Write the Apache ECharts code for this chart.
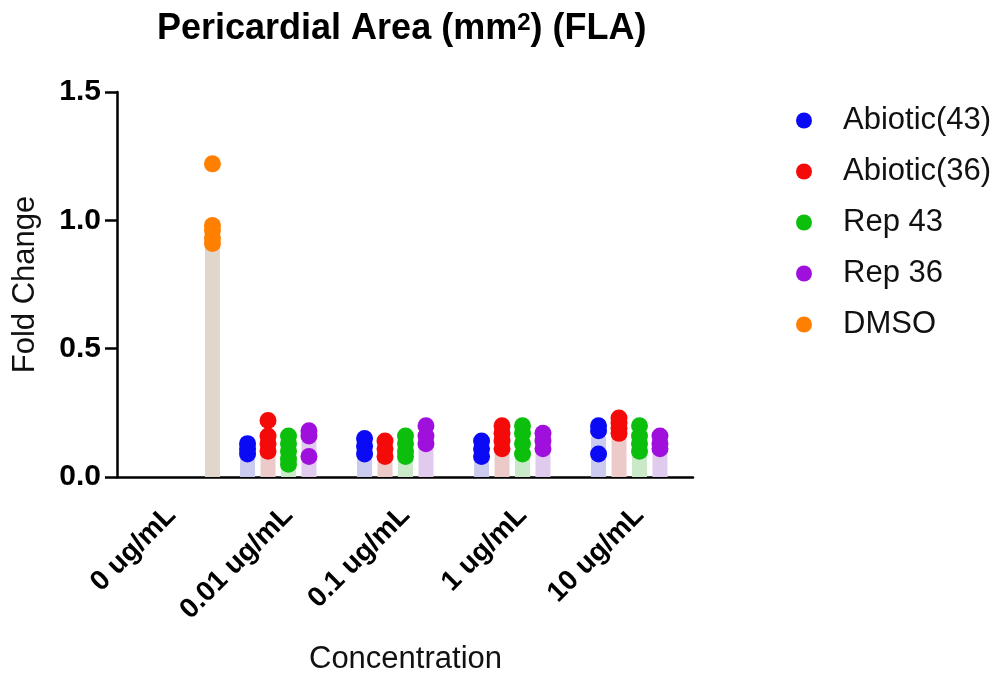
<!DOCTYPE html>
<html>
<head>
<meta charset="utf-8">
<script src="https://cdn.jsdelivr.net/npm/echarts@6/dist/echarts.min.js"></script>
<style>
html,body{margin:0;padding:0;background:#fff;}
#chart{width:1000px;height:673px;}
</style>
</head>
<body>
<div id="chart"></div>
<script>
// ---- data ----
const categories = ['0 ug/mL', '0.01 ug/mL', '0.1 ug/mL', '1 ug/mL', '10 ug/mL'];
const seriesNames = ['Abiotic(43)', 'Abiotic(36)', 'Rep 43', 'Rep 36', 'DMSO'];
const abiotic43 = [[], [0.13, 0.11, 0.09], [0.15, 0.12, 0.09], [0.14, 0.11, 0.08], [0.20, 0.18, 0.09]];
const abiotic36 = [[], [0.22, 0.16, 0.13, 0.10], [0.14, 0.11, 0.08], [0.20, 0.17, 0.14, 0.11], [0.23, 0.21, 0.19, 0.17]];
const rep43 = [[], [0.16, 0.13, 0.10, 0.07, 0.05], [0.16, 0.13, 0.10, 0.08], [0.20, 0.17, 0.13, 0.09], [0.20, 0.16, 0.13, 0.10]];
const rep36 = [[], [0.18, 0.16, 0.08], [0.20, 0.16, 0.13], [0.17, 0.14, 0.11], [0.16, 0.13, 0.11]];
const dmso = [[1.22, 0.98, 0.96, 0.93, 0.91], [], [], [], []];
const yTicks = [0, 0.5, 1.0, 1.5];

// ---- styles ----
const pointColors = ['#0a0af5', '#f50a0a', '#0cbf0c', '#a010dc', '#ff8000'];
const barColors = ['#cbcbef', '#eccaca', '#c9e9c9', '#e0cbee', '#e0d6cc'];
const FONT = 'Liberation Sans, Arial, Helvetica, sans-serif';
const allData = [abiotic43, abiotic36, rep43, rep36, dmso];
const slotStep = 0.175;

const scatterSeries = allData.map((groups, s) => {
  const pts = [];
  groups.forEach((vals, c) => {
    vals.forEach(v => pts.push([c + (s - 2) * slotStep, v]));
  });
  return {
    name: seriesNames[s],
    type: 'scatter',
    xAxisIndex: 1,
    yAxisIndex: 0,
    symbol: 'circle',
    symbolSize: 17,
    itemStyle: { color: pointColors[s], opacity: 1 },
    data: pts,
    z: 5
  };
});

const barData = [];
allData.forEach((groups, s) => {
  groups.forEach((vals, c) => {
    if (!vals.length) return;
    const mean = vals.reduce((a, b) => a + b, 0) / vals.length;
    barData.push({ value: [c + (s - 2) * slotStep, mean], itemStyle: { color: barColors[s] } });
  });
});

const axisBlack = { color: '#000', width: 2.5 };

const chart = echarts.init(document.getElementById('chart'), null, { renderer: 'canvas' });
chart.setOption({
  animation: false,
  backgroundColor: '#ffffff',
  textStyle: { fontFamily: FONT },
  title: {
    text: '{t|Pericardial Area (mm}{s|2}{t|) (FLA)}',
    left: 152,
    top: 6,
    textStyle: {
      rich: {
        t: { fontFamily: FONT, fontSize: 36, fontWeight: 'bold', color: '#000' },
        s: { fontFamily: FONT, fontSize: 24, fontWeight: 'bold', color: '#000', verticalAlign: 'top' }
      }
    }
  },
  legend: {
    data: seriesNames,
    orient: 'vertical',
    left: 791,
    top: 100,
    itemWidth: 16,
    itemHeight: 16,
    itemGap: 20,
    icon: 'circle',
    textStyle: { fontFamily: FONT, fontSize: 31, color: '#111', padding: [0, 0, 0, 26] }
  },
  grid: [
    { left: 113, right: 302, top: 92, bottom: 196, containLabel: false, outerBoundsMode: 'none' },
    { left: 117, right: 307, top: 92, bottom: 196, containLabel: false, outerBoundsMode: 'none' }
  ],
  xAxis: [
    {
      gridIndex: 0,
      type: 'category',
      data: categories,
      boundaryGap: true,
      name: 'Concentration',
      nameLocation: 'middle',
      nameGap: 167,
      nameTextStyle: { fontFamily: FONT, fontSize: 31, color: '#111' },
      axisLine: { show: false },
      axisTick: { alignWithLabel: true, length: 13, lineStyle: axisBlack },
      axisLabel: { rotate: 45, margin: 34, fontFamily: FONT, fontSize: 28, fontWeight: 'bold', color: '#000', interval: 0 },
      splitLine: { show: false }
    },
    {
      gridIndex: 0,
      type: 'value',
      min: -0.5,
      max: 4.5,
      show: false,
      splitLine: { show: false }
    },
    {
      gridIndex: 1,
      type: 'value',
      min: 0,
      max: 1,
      axisLine: { show: true, onZero: false, lineStyle: axisBlack },
      axisTick: { show: false },
      axisLabel: { show: false },
      splitLine: { show: false }
    }
  ],
  yAxis: [
    {
      gridIndex: 0,
      type: 'value',
      min: 0,
      max: 1.5,
      show: false,
      splitLine: { show: false }
    },
    {
      gridIndex: 1,
      type: 'value',
      min: 0,
      max: 1.5,
      interval: 0.5,
      name: 'Fold Change',
      nameLocation: 'middle',
      nameGap: 76,
      nameTextStyle: { fontFamily: FONT, fontSize: 31, color: '#111' },
      axisLine: { show: true, onZero: false, lineStyle: axisBlack },
      axisTick: { show: true, length: 12, lineStyle: axisBlack },
      axisLabel: {
        margin: 16, fontFamily: FONT, fontSize: 30, fontWeight: 'bold', color: '#000',
        formatter: v => (yTicks.includes(v) ? v.toFixed(1) : '')
      },
      splitLine: { show: false }
    }
  ],
  series: [
    {
      type: 'bar',
      xAxisIndex: 1,
      yAxisIndex: 0,
      barWidth: 15,
      data: barData,
      z: 2
    }
  ].concat(scatterSeries)
});
</script>
</body>
</html>
